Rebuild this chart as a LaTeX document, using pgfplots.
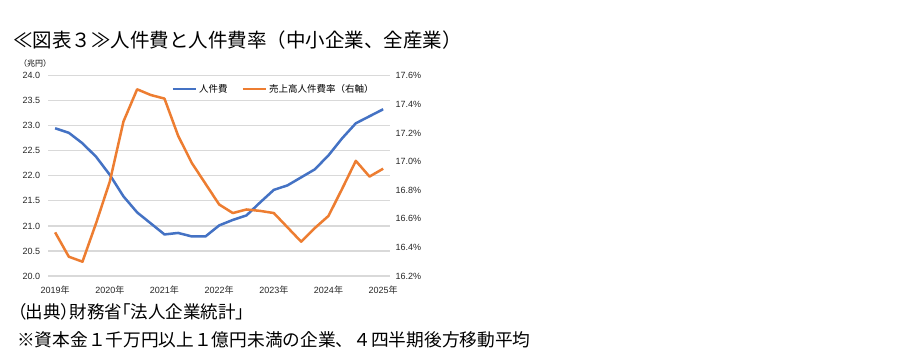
\documentclass[border=0pt]{standalone}
\usepackage{fontspec}
\setmainfont{Noto Sans CJK JP}
\newfontfamily\paltfont[RawFeature=+palt]{Noto Sans CJK JP}
\newfontfamily\lib{Liberation Sans}
\newfontfamily\jp{Noto Sans CJK JP}
\usepackage{pgfplots}
\usepackage{pgfplotstable}
\pgfplotsset{compat=1.18}
\definecolor{cblue}{HTML}{4472C4}
\definecolor{corange}{HTML}{ED7D31}
\definecolor{cgrid}{HTML}{D9D9D9}

\pgfplotstableread{
i jinken ritsu
0 22.95 16.505
1 22.86 16.335
2 22.65 16.30
3 22.38 16.57
4 22.02 16.86
5 21.59 17.28
6 21.27 17.505
7 21.05 17.465
8 20.83 17.44
9 20.86 17.18
10 20.79 16.99
11 20.79 16.845
12 21.01 16.70
13 21.12 16.64
14 21.21 16.665
15 21.47 16.655
16 21.72 16.64
17 21.81 16.54
18 21.97 16.44
19 22.13 16.535
20 22.41 16.62
21 22.75 16.81
22 23.05 17.005
23 23.19 16.895
24 23.33 16.95
}\data

\begin{document}
\begin{tikzpicture}[x=1pt,y=1pt]
\path[use as bounding box, fill=white] (0,0) rectangle (904,357);
\node[anchor=west,inner sep=0pt,font=\fontsize{19.5}{19.5}\selectfont] at (13,317) {≪図表３≫人件費と人件費率（中小企業、全産業）};
\node[anchor=west,inner sep=0pt,font=\fontsize{8}{8}\selectfont] at (19,293.5) {（兆円）};
\node[anchor=west,inner sep=0pt,font=\paltfont\fontsize{17.5}{17.5}\selectfont] at (17,45) {（出典）財務省「法人企業統計」};
\node[anchor=west,inner sep=0pt,font=\fontsize{17.7}{17.7}\selectfont] at (17,17) {※資本金１千万円以上１億円未満の企業、４四半期後方移動平均};

\begin{axis}[
  at={(48.3pt,81pt)}, anchor=south west, scale only axis,
  width=341.7pt, height=200.3pt,
  xmin=-0.5, xmax=24.5, ymin=20, ymax=24,
  axis line style={draw=none}, major tick length=0pt,
  xtick={0,4,...,24},
  xticklabels={2019{\jp 年},2020{\jp 年},2021{\jp 年},2022{\jp 年},2023{\jp 年},2024{\jp 年},2025{\jp 年}},
  ytick={20,20.5,...,24},
  ymajorgrids, grid style={cgrid, line width=1.2pt},
  tick label style={font=\lib\fontsize{9}{9}\selectfont, text=black!85},
  yticklabel style={inner sep=0pt, anchor=east, xshift=-8pt,
    /pgf/number format/fixed, /pgf/number format/fixed zerofill,
    /pgf/number format/precision=1, /pgf/number format/assume math mode=true},
  xticklabel style={inner sep=0pt, anchor=north, yshift=-9.5pt},
  clip=false,
]
\addplot[cblue, line width=2.5pt, line join=round, no markers] table[x=i,y=jinken]{\data};
\end{axis}

\begin{axis}[
  at={(48.3pt,81pt)}, anchor=south west, scale only axis,
  width=341.7pt, height=200.3pt,
  xmin=-0.5, xmax=24.5, ymin=16.2, ymax=17.6,
  axis line style={draw=none}, major tick length=0pt,
  xtick=\empty,
  ytick={16.2,16.4,...,17.61},
  axis y line*=right,
  axis x line=none,
  tick label style={font=\lib\fontsize{9}{9}\selectfont, text=black!85},
  yticklabel={\pgfmathprintnumber[fixed,fixed zerofill,precision=1,assume math mode=true]{\tick}\%},
  yticklabel style={inner sep=0pt, anchor=west, xshift=5.5pt},
  legend columns=2,
  legend image code/.code={\draw[#1] (0pt,0pt) -- (23pt,0pt);},
  legend style={draw=none, fill=none, at={(0.36,0.934)}, anchor=west,
    inner xsep=0pt, inner ysep=0pt,
    font=\fontsize{9.5}{9.5}\selectfont,
    /tikz/every even column/.append style={column sep=12pt}},
  clip=false,
]
\addlegendimage{cblue, line width=2.5pt}
\addlegendentry{人件費}
\addplot[corange, line width=2.5pt, line join=round, no markers] table[x=i,y=ritsu]{\data};
\addlegendentry{売上高人件費率（右軸）}
\end{axis}
\end{tikzpicture}
\end{document}
